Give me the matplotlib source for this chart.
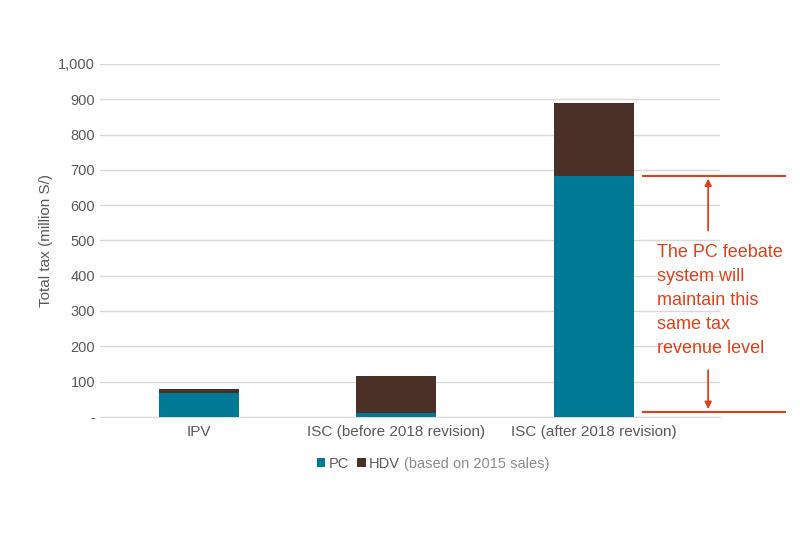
import matplotlib
matplotlib.use("Agg")
import matplotlib.pyplot as plt
from matplotlib.ticker import FuncFormatter

categories = ["IPV", "ISC (before 2018 revision)", "ISC (after 2018 revision)"]
pc_values = [68, 10, 683]
hdv_values = [12, 107, 207]
band_low, band_high = 14, 683

PC_COLOR = "#007A94"
HDV_COLOR = "#4A3026"
RED = "#E0401C"
GREY = "#595959"

plt.rcParams["font.family"] = "Liberation Sans"

fig = plt.figure(figsize=(8, 5.33), dpi=100)
ax = fig.add_axes([0.125, 0.218, 0.775, 0.662])

x = range(len(categories))
ax.bar(x, pc_values, width=0.405, color=PC_COLOR, label="PC", zorder=3)
ax.bar(x, hdv_values, width=0.405, bottom=pc_values, color=HDV_COLOR,
       label="HDV", zorder=3)

ax.set_xlim(-0.5, 2.64)
ax.set_ylim(0, 1000)
ax.set_yticks(range(0, 1001, 100))
ax.yaxis.set_major_formatter(FuncFormatter(lambda v, _: "-" if v == 0 else f"{int(v):,}"))
ax.set_xticks(list(x))
ax.set_xticklabels(categories, fontsize=11, color=GREY)
ax.tick_params(axis="y", labelsize=10.5, colors=GREY, length=0)
ax.tick_params(axis="x", length=0, pad=6)
ax.grid(axis="y", color="#D9D9D9", linewidth=1, zorder=0)
for s in ["top", "right", "left"]:
    ax.spines[s].set_visible(False)
ax.spines["bottom"].set_color("#D9D9D9")
ax.set_ylabel("Total tax (million S/)", fontsize=11, color=GREY)

# annotation: same revenue band
for yv in (band_low, band_high):
    ax.plot([2.25, 2.97], [yv, yv], color=RED, lw=1.5, clip_on=False, zorder=4)
ax.annotate("", xy=(2.58, band_high), xytext=(2.58, 520),
            arrowprops=dict(arrowstyle="-|>", color=RED, lw=1.3), annotation_clip=False)
ax.annotate("", xy=(2.58, band_low), xytext=(2.58, 140),
            arrowprops=dict(arrowstyle="-|>", color=RED, lw=1.3), annotation_clip=False)
ax.text(2.32, 330, "The PC feebate\nsystem will\nmaintain this\nsame tax\nrevenue level",
        color=RED, fontsize=13, va="center", ha="left", linespacing=1.55)

leg = fig.legend(loc="center right", bbox_to_anchor=(0.5, 0.13), ncol=2, frameon=False,
                 fontsize=10.5, handlelength=0.6, handleheight=0.6, columnspacing=0.6,
                 handletextpad=0.2, borderaxespad=0, borderpad=0)
for t in leg.get_texts():
    t.set_color(GREY)
fig.text(0.505, 0.13, "(based on 2015 sales)", fontsize=10.5, color="#8C8C8C",
         va="center", ha="left")

fig.savefig("out.png", dpi=100)
